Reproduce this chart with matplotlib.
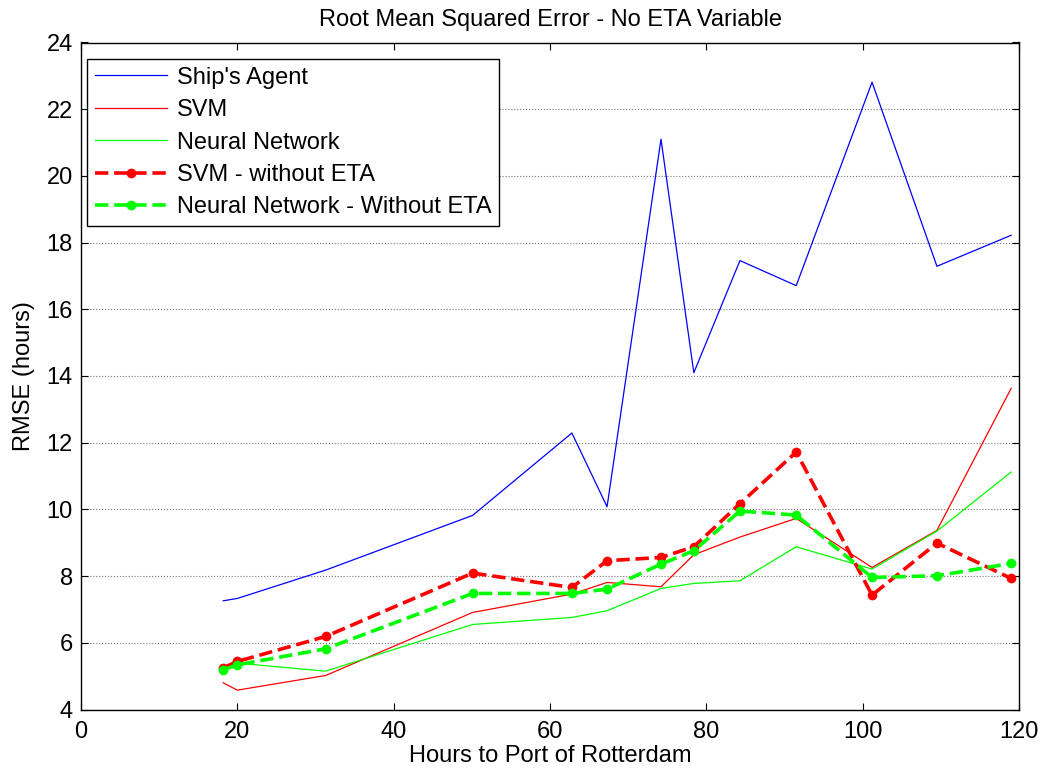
import matplotlib.pyplot as plt
import numpy as np

plt.rcParams['font.family'] = ['Liberation Sans', 'DejaVu Sans']

# hours to port (x) and RMSE values
hours = [18.2, 20.0, 31.3, 50.1, 62.8, 67.3, 74.2, 78.4, 84.3, 91.5, 101.2, 109.5, 119.0]
ship_agent = [7.26, 7.33, 8.18, 9.82, 12.29, 10.08, 21.10, 14.10, 17.46, 16.71, 22.81, 17.29, 18.22]
svm = [4.80, 4.58, 5.02, 6.91, 7.46, 7.81, 7.68, 8.64, 9.17, 9.73, 8.26, 9.37, 13.63]
nn = [5.22, 5.39, 5.15, 6.55, 6.76, 6.96, 7.63, 7.78, 7.86, 8.88, 8.21, 9.35, 11.12]
svm_no_eta = [5.25, 5.44, 6.19, 8.09, 7.66, 8.46, 8.56, 8.88, 10.17, 11.72, 7.43, 8.99, 7.93]
nn_no_eta = [5.19, 5.34, 5.82, 7.48, 7.48, 7.61, 8.36, 8.76, 9.95, 9.83, 7.96, 8.01, 8.38]

fs = 17

fig = plt.figure(figsize=(10.43, 7.74), dpi=100)
ax = fig.add_axes([81/1043, 1-709.5/774, 938/1043, 667/774])

ax.plot(hours, ship_agent, color='#0000ff', lw=0.9, label="Ship's Agent")
ax.plot(hours, svm, color='#ff0000', lw=0.9, label='SVM')
ax.plot(hours, nn, color='#00ff00', lw=0.9, label='Neural Network')
ax.plot(hours, svm_no_eta, '--o', color='#ff0000', lw=2.6, ms=6, label='SVM - without ETA')
ax.plot(hours, nn_no_eta, '--o', color='#00ff00', lw=2.6, ms=6, label='Neural Network - Without ETA')

ax.set_xlim(0, 120)
ax.set_ylim(4, 24)
ax.set_xticks(np.arange(0, 121, 20))
ax.set_yticks(np.arange(4, 25, 2))
ax.yaxis.grid(True, color='#777777', ls=':', lw=0.8)
ax.tick_params(direction='in', top=True, right=True, labelsize=fs, length=5)
ax.tick_params(axis='x', pad=8)
ax.tick_params(axis='y', pad=6)
for s in ax.spines.values():
    s.set_linewidth(1.0)

ax.set_title('Root Mean Squared Error - No ETA Variable', fontsize=fs, pad=12)
ax.set_xlabel('Hours to Port of Rotterdam', fontsize=fs, labelpad=2)
ax.set_ylabel('RMSE (hours)', fontsize=fs, labelpad=8)

leg = ax.legend(loc='upper left', bbox_to_anchor=(0.0065, 0.975), fontsize=fs,
                frameon=True, fancybox=False, edgecolor='black', framealpha=1,
                borderaxespad=0, handlelength=3.05, handletextpad=0.42,
                labelspacing=0.44, borderpad=0.32)
leg.get_frame().set_linewidth(1.0)

fig.savefig('out.png', dpi=100)
